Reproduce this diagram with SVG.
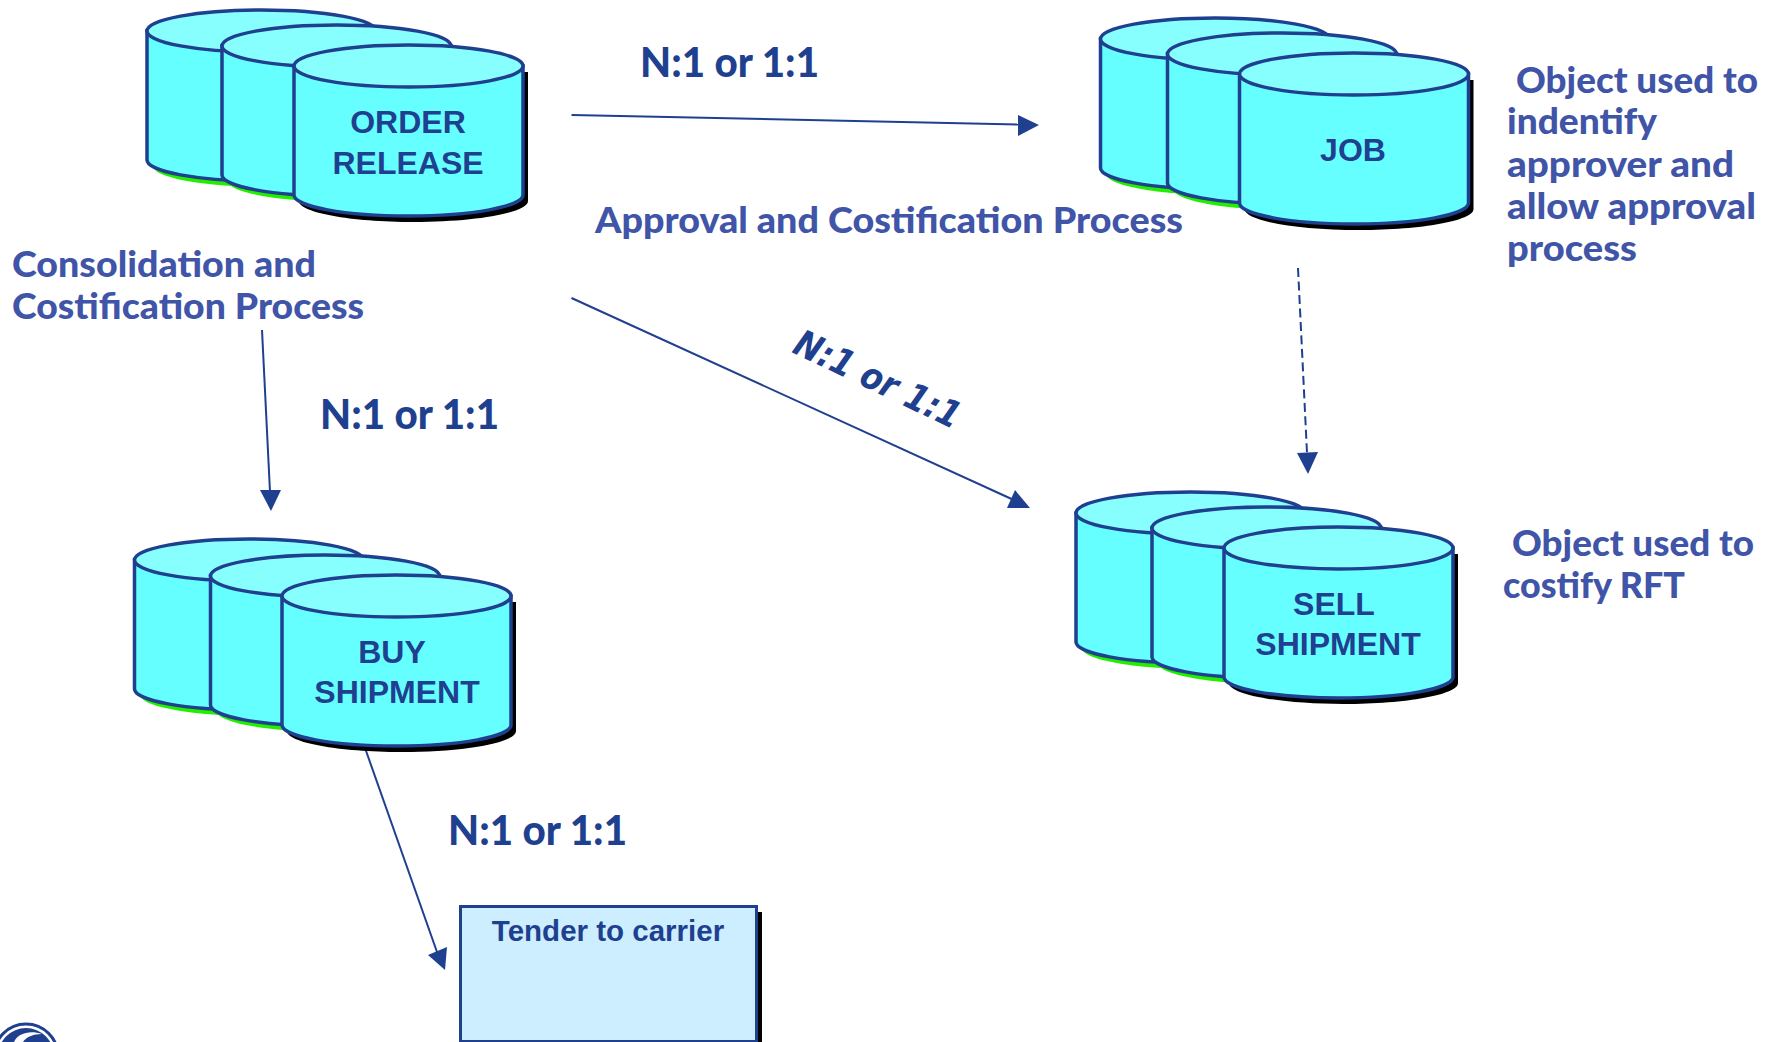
<svg xmlns="http://www.w3.org/2000/svg" width="1777" height="1042" viewBox="0 0 1777 1042">
<style>
.body{fill:#66ffff;stroke:#1f3f8f;stroke-width:3.500}
.top{fill:#88ffff;stroke:#1f3f8f;stroke-width:3.500}
.lbl{font-family:"Liberation Sans",Arial,sans-serif;font-weight:700;font-size:32px;fill:#1f3f8f;text-anchor:middle}
.note{font-family:Lato,"Open Sans",sans-serif;font-weight:900;font-size:36px;fill:#4055a8}
.card{font-family:Lato,"Open Sans",sans-serif;font-weight:900;font-size:41px;fill:#1f3f8f}
.line{fill:none;stroke:#1f3f8f;stroke-width:2}
.head{fill:#1f3f8f}
</style>
<defs>
<path id="cylBody" d="M0 0V129C0 140.600 51.300 150 114.500 150S229 140.600 229 129V0Z"/>
<ellipse id="cylTop" cx="114.500" cy="0" rx="114.500" ry="21"/>
<g id="backCyl">
<use href="#cylBody" transform="translate(6 6)" fill="#22ee00"/>
<use href="#cylBody" class="body"/>
<use href="#cylTop" class="top"/>
</g>
<g id="frontCyl">
<use href="#cylBody" transform="translate(5 6)" fill="#000"/>
<use href="#cylBody" class="body"/>
<use href="#cylTop" class="top"/>
</g>
</defs>
<rect width="1777" height="1042" fill="#fff"/>

<g id="connectors">
<line class="line" x1="571.500" y1="115" x2="1020" y2="124.500"/>
<polygon class="head" points="1018,115 1039,125 1018,136"/>
<line class="line" x1="571.500" y1="298" x2="1016" y2="501"/>
<polygon class="head" points="1015,490 1007,508 1030,508"/>
<line class="line" x1="262" y1="330" x2="270" y2="492"/>
<polygon class="head" points="260,490 281,490 271,511"/>
<line class="line" x1="1298" y1="268" x2="1307" y2="453" stroke-dasharray="9 4.500"/>
<polygon class="head" points="1297,453 1318,452 1308,474"/>
<line class="line" x1="365" y1="748" x2="437" y2="952"/>
<polygon class="head" points="428,955 447,947 445,970"/>
</g>

<g id="order-release">
<use href="#backCyl" x="147" y="31"/>
<use href="#backCyl" x="222" y="46"/>
<use href="#frontCyl" x="294" y="66"/>
<text class="lbl" x="408" y="133">ORDER</text>
<text class="lbl" x="408" y="174">RELEASE</text>
</g>
<g id="job">
<use href="#backCyl" x="1100.500" y="39"/>
<use href="#backCyl" x="1167.500" y="54"/>
<use href="#frontCyl" x="1239.500" y="74"/>
<text class="lbl" x="1353" y="161">JOB</text>
</g>
<g id="sell-shipment">
<use href="#backCyl" x="1076" y="513"/>
<use href="#backCyl" x="1152" y="528"/>
<use href="#frontCyl" x="1224" y="548"/>
<text class="lbl" x="1334" y="615">SELL</text>
<text class="lbl" x="1338" y="655">SHIPMENT</text>
</g>
<g id="buy-shipment">
<use href="#backCyl" x="134.500" y="560"/>
<use href="#backCyl" x="210.500" y="576"/>
<use href="#frontCyl" x="282" y="596"/>
<text class="lbl" x="392" y="663">BUY</text>
<text class="lbl" x="397" y="703">SHIPMENT</text>
</g>
<g id="tender-to-carrier">
<rect x="465" y="912" width="297" height="135" fill="#000"/>
<rect x="460.500" y="906.500" width="296" height="135" fill="#cceeff" stroke="#1f3f8f" stroke-width="3"/>
<text class="lbl" x="608" y="941" style="font-size:29.500px">Tender to carrier</text>
</g>

<g id="logo">
<circle cx="26" cy="1056" r="32" fill="#fff" stroke="#1f3f8f" stroke-width="3"/>
<circle cx="26" cy="1056" r="28" fill="#1f3f8f"/>
<path d="M14 1042C18 1033 30 1030 42 1034C33 1034 26 1037 23 1042Z" fill="#fff"/>
</g>

<g id="labels">
<text class="card" x="640" y="77" textLength="179" lengthAdjust="spacingAndGlyphs">N:1 or 1:1</text>
<text class="card" x="320" y="429" textLength="179" lengthAdjust="spacingAndGlyphs">N:1 or 1:1</text>
<text class="card" x="448" y="845" textLength="179" lengthAdjust="spacingAndGlyphs">N:1 or 1:1</text>
<text transform="translate(791 352) rotate(25.500)" font-family="'DejaVu Sans',sans-serif" font-weight="700" font-style="oblique" font-size="37" fill="#1f3f8f" textLength="180" lengthAdjust="spacingAndGlyphs">N:1 or 1:1</text>
<text class="note" x="595" y="233" textLength="588" lengthAdjust="spacingAndGlyphs">Approval and Costification Process</text>
<text class="note" x="12" y="277" textLength="304" lengthAdjust="spacingAndGlyphs">Consolidation and</text>
<text class="note" x="12" y="319" textLength="352" lengthAdjust="spacingAndGlyphs">Costification Process</text>
<text class="note" x="1516" y="93" textLength="242" lengthAdjust="spacingAndGlyphs">Object used to</text>
<text class="note" x="1507" y="134" textLength="150" lengthAdjust="spacingAndGlyphs">indentify</text>
<text class="note" x="1507" y="177" textLength="227" lengthAdjust="spacingAndGlyphs">approver and</text>
<text class="note" x="1507" y="219" textLength="249" lengthAdjust="spacingAndGlyphs">allow approval</text>
<text class="note" x="1507" y="261" textLength="130" lengthAdjust="spacingAndGlyphs">process</text>
<text class="note" x="1512" y="556" textLength="242" lengthAdjust="spacingAndGlyphs">Object used to</text>
<text class="note" x="1503" y="598" textLength="182" lengthAdjust="spacingAndGlyphs">costify RFT</text>
</g>
</svg>
